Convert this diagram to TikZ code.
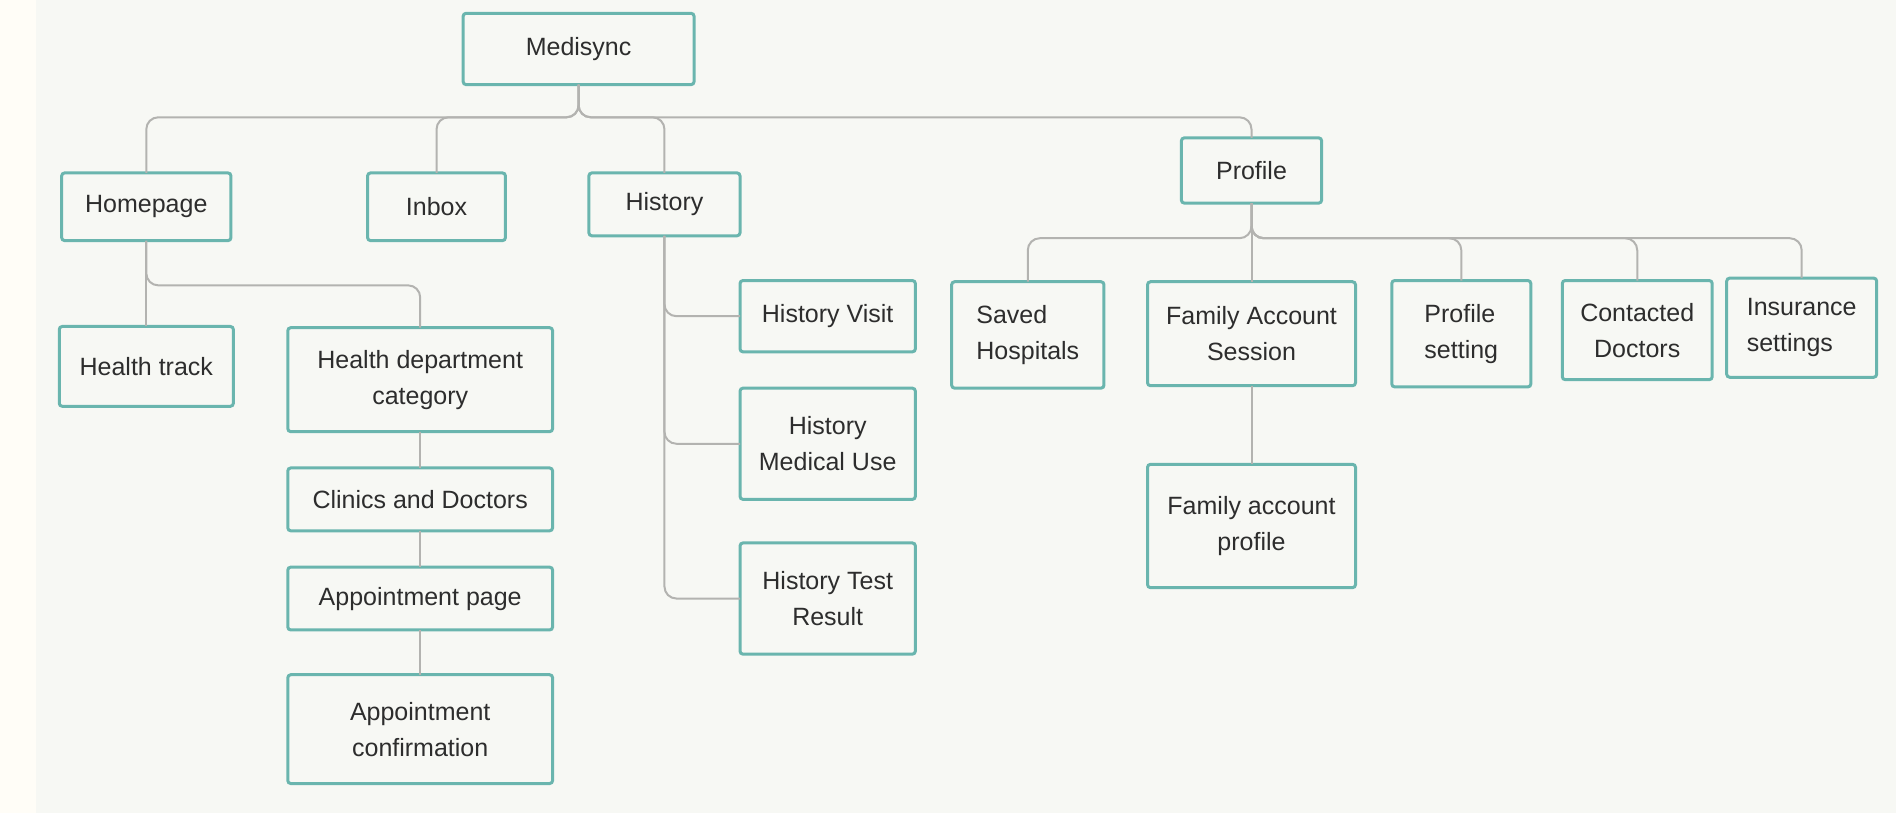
\documentclass[tikz,border=0pt]{standalone}
\usepackage{fontspec}
\setmainfont{Liberation Sans}
\definecolor{bgmain}{HTML}{F7F8F4}
\definecolor{bgleft}{HTML}{FFFDF7}
\definecolor{boxline}{HTML}{6AB5AE}
\definecolor{conline}{HTML}{B3B3B0}
\definecolor{txt}{HTML}{2D2D2D}
\tikzset{
  box/.style={draw=boxline, line width=1.5pt, fill=bgmain, rounded corners=1.5pt,
    inner sep=0pt, outer sep=0pt, text=txt, align=center,
    font=\fontsize{12.5}{18}\selectfont},
  conn/.style={draw=conline, line width=1pt, rounded corners=6pt},
}
\newcommand\bx[7][]{%
  \node[box, #1, minimum width={(#5-#3)*0.6046pt}, minimum height={(#6-#4)*0.6046pt}]
    (#2) at ({(#3+#5)/2},{(#4+#6)/2}) {#7};}
\begin{document}
\begin{tikzpicture}[x=0.6046pt, y=-0.6046pt]
\useasboundingbox (0,0) rectangle (1568,672);
\fill[bgmain] (0,0) rectangle (1568,672);
\fill[bgleft] (0,0) rectangle (30,672);

% nodes
\bx{med}{383}{11}{574}{70}{Medisync}
\bx{home}{51}{143}{191}{199}{Homepage}
\bx{inbox}{304}{143}{418}{199}{Inbox}
\bx{hist}{487}{143}{612}{195}{History}
\bx{prof}{977}{114}{1093}{168}{Profile}

\bx{ht}{49}{270}{193}{336}{Health track}
\bx{hdc}{238}{271}{457}{357}{Health department\\category}
\bx{cd}{238}{387}{457}{439}{Clinics and Doctors}
\bx{ap}{238}{469}{457}{521}{Appointment page}
\bx{ac}{238}{558}{457}{648}{Appointment\\confirmation}

\bx{hv}{612}{232}{757}{291}{History Visit}
\bx{hmu}{612}{321}{757}{413}{History\\Medical Use}
\bx{htr}{612}{449}{757}{541}{History Test\\Result}

\bx[align=left]{sh}{787}{233}{913}{321}{Saved\\Hospitals}
\bx{fas}{949}{233}{1121}{319}{Family Account\\Session}
\bx[align=left]{ps}{1151}{232}{1266}{320}{Profile\\setting}
\bx{cdoc}{1292}{232}{1416}{314}{Contacted\\Doctors}
\bx[align=left]{ins}{1428}{230}{1552}{312}{Insurance\\settings}
\bx{fap}{949}{384}{1121}{486}{Family account\\profile}

% connectors: root
\draw[conn] (med.south) -- (med.south |- 0,97) -| (home.north);
\draw[conn] (med.south) -- (med.south |- 0,97) -| (inbox.north);
\draw[conn] (med.south) -- (med.south |- 0,97) -| (hist.north);
\draw[conn] (med.south) -- (med.south |- 0,97) -| (prof.north);

% homepage
\draw[conn] (home.south) -- (ht.north);
\draw[conn] (home.south) -- (home.south |- 0,236) -| (hdc.north);
\draw[conn] (hdc.south) -- (cd.north);
\draw[conn] (cd.south) -- (ap.north);
\draw[conn] (ap.south) -- (ac.north);

% history
\draw[conn] (hist.south) |- (hv.west);
\draw[conn] (hist.south) |- (hmu.west);
\draw[conn] (hist.south) |- (htr.west);

% profile
\draw[conn] (prof.south) -- (prof.south |- 0,197) -| (sh.north);
\draw[conn] (prof.south) -- (fas.north);
\draw[conn] (prof.south) -- (prof.south |- 0,197) -| (ps.north);
\draw[conn] (prof.south) -- (prof.south |- 0,197) -| (cdoc.north);
\draw[conn] (prof.south) -- (prof.south |- 0,197) -| (ins.north);
\draw[conn] (fas.south) -- (fap.north);
\end{tikzpicture}
\end{document}
